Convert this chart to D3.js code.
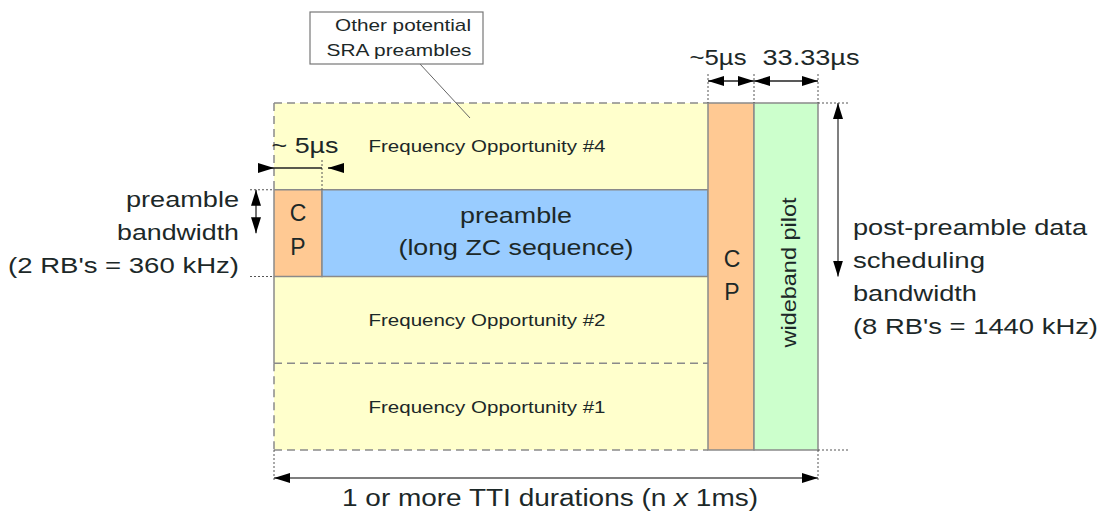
<!DOCTYPE html>
<meta charset="utf-8">
<style>
  body { margin: 0; background: #fff; }
  svg text { font-family: "Liberation Sans", Arial, sans-serif; fill: #1c2828; }
</style>
<div id="diagram"></div>
<script src="https://d3js.org/d3.v7.min.js"></script>
<script>
// time segments of the SRA slot, durations in µs (preamble length is nominal)
const segments = ["CP", "preamble", "CP", "wideband pilot"];
const segmentDurations = [5, 795, 5, 33.33];
// frequency rows, top to bottom
const rows = ["Frequency Opportunity #4", "preamble", "Frequency Opportunity #2", "Frequency Opportunity #1"];
const preambleLines = ["preamble", "(long ZC sequence)"];
const cpLetters = ["C", "P"];
const bandwidthLines = ["preamble", "bandwidth", "(2 RB's = 360 kHz)"];
const dataBandwidthLines = ["post-preamble data", "scheduling", "bandwidth", "(8 RB's = 1440 kHz)"];
const calloutLines = ["Other potential", "SRA preambles"];
const durationLabels = ["~ 5µs", "~5µs", "33.33µs"];
const ttiLabel = ["1 or more TTI durations (n ", "x", " 1ms)"];

const W = 1107, H = 512;
const svg = d3.select("#diagram").append("svg")
    .attr("width", W).attr("height", H);

// boundaries of the segments along the time axis
const bounds = [0];
segmentDurations.forEach(d => bounds.push(bounds[bounds.length - 1] + d));

// piecewise time scale (the drawing is not to scale)
const x = d3.scaleLinear().domain(bounds).range([274, 322, 708, 754, 818]);
const y = d3.scaleBand().domain(rows).range([103, 450]);

const grey = "#8a8a8a";
const yTop = y.range()[0], yBot = y.range()[1];
const slotEnd = x(bounds[2]);

// arrow heads
const defs = svg.append("defs");
defs.append("marker")
    .attr("id", "head")
    .attr("markerUnits", "userSpaceOnUse")
    .attr("viewBox", "0 0 16 10")
    .attr("markerWidth", 16).attr("markerHeight", 10)
    .attr("refX", 16).attr("refY", 5)
    .attr("orient", "auto-start-reverse")
  .append("path")
    .attr("d", "M0,0L16,5L0,10Z")
    .attr("fill", "#000");

function label(g, txt, px, py, size, anchor, width) {
  const t = g.append("text")
    .attr("x", px).attr("y", py)
    .attr("font-size", size)
    .attr("text-anchor", anchor)
    .text(txt);
  if (width) t.attr("textLength", width).attr("lengthAdjust", "spacingAndGlyphs");
  return t;
}
function dotted(x1, y1, x2, y2) {
  svg.append("line").attr("x1", x1).attr("y1", y1).attr("x2", x2).attr("y2", y2)
    .attr("stroke", "#555").attr("stroke-width", 1).attr("stroke-dasharray", "2,2");
}
function arrow(x1, y1, x2, y2, both, color) {
  const l = svg.append("line").attr("x1", x1).attr("y1", y1).attr("x2", x2).attr("y2", y2)
    .attr("stroke", color || "#222").attr("stroke-width", 1.5)
    .attr("marker-end", "url(#head)");
  if (both) l.attr("marker-start", "url(#head)");
}

// yellow area of the frequency opportunities
svg.append("rect")
    .attr("x", x(0)).attr("y", yTop)
    .attr("width", slotEnd - x(0)).attr("height", yBot - yTop)
    .attr("fill", "#ffffcc");

// dashed outline and row divider
const dashedLines = [
  [x(0), yTop, slotEnd, yTop],
  [x(0), yBot, slotEnd, yBot],
  [x(0), yTop, x(0), y("preamble")],
  [x(0), y(rows[3]), x(0), yBot],
  [x(0), y(rows[3]), slotEnd, y(rows[3])]
];
svg.selectAll("line.dash").data(dashedLines).join("line")
    .attr("class", "dash")
    .attr("x1", d => d[0]).attr("y1", d => d[1])
    .attr("x2", d => d[2]).attr("y2", d => d[3])
    .attr("stroke", grey).attr("stroke-width", 1.5)
    .attr("stroke-dasharray", "8,5");
svg.append("line")
    .attr("x1", x(0)).attr("x2", x(0))
    .attr("y1", y(rows[2])).attr("y2", y(rows[3]))
    .attr("stroke", grey).attr("stroke-width", 1.5);

// preamble row: CP + long ZC sequence
const segColor = {"CP": "#ffc993", "preamble": "#99ccff", "wideband pilot": "#ccffcc"};
svg.selectAll("rect.pre").data(segments.slice(0, 2)).join("rect")
    .attr("class", "pre")
    .attr("x", (d, i) => x(bounds[i]))
    .attr("y", y("preamble"))
    .attr("width", (d, i) => x(bounds[i + 1]) - x(bounds[i]))
    .attr("height", y.bandwidth())
    .attr("fill", d => segColor[d])
    .attr("stroke", grey).attr("stroke-width", 1.5);

// wideband CP + pilot spanning the whole bandwidth
svg.selectAll("rect.wide").data(segments.slice(2)).join("rect")
    .attr("class", "wide")
    .attr("x", (d, i) => x(bounds[i + 2]))
    .attr("y", yTop)
    .attr("width", (d, i) => x(bounds[i + 3]) - x(bounds[i + 2]))
    .attr("height", yBot - yTop)
    .attr("fill", d => segColor[d])
    .attr("stroke", grey).attr("stroke-width", 1.5);

// row labels
const rowLabels = svg.append("g");
rows.filter(r => r !== "preamble").forEach(r => {
  label(rowLabels, r, (x(0) + slotEnd) / 2 - 4, y(r) + y.bandwidth() / 2 + 6, 17, "middle", 237);
});
const preMid = (x(bounds[1]) + slotEnd) / 2 + 1;
label(svg, preambleLines[0], preMid, 223, 22, "middle", 112);
label(svg, preambleLines[1], preMid, 255, 22, "middle", 235);

const cpMid1 = (x(bounds[0]) + x(bounds[1])) / 2;
label(svg, cpLetters[0], cpMid1, 221, 23, "middle");
label(svg, cpLetters[1], cpMid1, 255, 23, "middle");
const cpMid2 = (x(bounds[2]) + x(bounds[3])) / 2 + 1;
label(svg, cpLetters[0], cpMid2, 267, 23, "middle");
label(svg, cpLetters[1], cpMid2, 300, 23, "middle");

const pilotMid = (x(bounds[3]) + x(bounds[4])) / 2;
svg.append("text")
    .attr("transform", `translate(${pilotMid + 10},${(yTop + yBot) / 2 - 4}) rotate(-90)`)
    .attr("text-anchor", "middle")
    .attr("font-size", 21)
    .attr("textLength", 150).attr("lengthAdjust", "spacingAndGlyphs")
    .text(segments[3]);

// callout
svg.append("line").attr("x1", 420).attr("y1", 64).attr("x2", 470).attr("y2", 118)
    .attr("stroke", "#666").attr("stroke-width", 1);
svg.append("rect").attr("x", 310).attr("y", 12).attr("width", 173).attr("height", 52)
    .attr("fill", "#fff").attr("stroke", "#777").attr("stroke-width", 1.2);
label(svg, calloutLines[0], 403, 31, 17, "middle", 136);
label(svg, calloutLines[1], 399, 56, 17, "middle", 145);

// ~5µs of the preamble CP
dotted(x(bounds[1]), 160, x(bounds[1]), y("preamble"));
svg.append("line").attr("x1", x(0)).attr("x2", x(bounds[1]))
    .attr("y1", 168).attr("y2", 168).attr("stroke", "#222").attr("stroke-width", 1.5);
arrow(x(0) - 16, 168, x(0), 168);
arrow(x(bounds[1]) + 22, 168, x(bounds[1]) + 6, 168);
label(svg, durationLabels[0], 305, 153, 22, "middle", 67);

// top dimension arrows: CP and pilot
[2, 3, 4].forEach(i => dotted(x(bounds[i]), 74, x(bounds[i]), yTop));
arrow(x(bounds[2]), 81, x(bounds[3]), 81, true);
arrow(x(bounds[3]), 81, x(bounds[4]), 81, true);
label(svg, durationLabels[1], (x(bounds[2]) + x(bounds[3])) / 2 - 13, 65, 22, "middle", 57);
label(svg, durationLabels[2], (x(bounds[3]) + x(bounds[4])) / 2 + 25, 65, 22, "middle", 97);

// preamble bandwidth
dotted(250, y("preamble"), x(0), y("preamble"));
dotted(250, y(rows[2]), x(0), y(rows[2]));
arrow(256, (y("preamble") + y(rows[2])) / 2, 256, y("preamble"), true, "#444");
const bwG = svg.append("g");
const bwWidths = [113, 122, 231];
bandwidthLines.forEach((t, i) => label(bwG, t, 239, 207 + i * 33, 22, "end", bwWidths[i]));

// data scheduling bandwidth
dotted(x(bounds[4]), yTop, 850, yTop);
dotted(x(bounds[4]), yBot, 850, yBot);
arrow(838, (yTop + yBot) / 2, 838, yTop, true, "#555");
const dbG = svg.append("g");
const dbWidths = [234, 132, 124, 245];
dataBandwidthLines.forEach((t, i) => label(dbG, t, 853, 235 + i * 33, 22, "start", dbWidths[i]));

// TTI duration
dotted(x(0), yBot, x(0), 480);
dotted(x(bounds[4]), yBot, x(bounds[4]), 480);
arrow(x(0), 478, x(bounds[4]), 478, true, "#555");
const tti = svg.append("text")
    .attr("x", 550).attr("y", 506)
    .attr("font-size", 23)
    .attr("text-anchor", "middle")
    .attr("textLength", 416).attr("lengthAdjust", "spacingAndGlyphs");
tti.append("tspan").text(ttiLabel[0]);
tti.append("tspan").attr("font-style", "italic").text(ttiLabel[1]);
tti.append("tspan").text(ttiLabel[2]);
</script>
